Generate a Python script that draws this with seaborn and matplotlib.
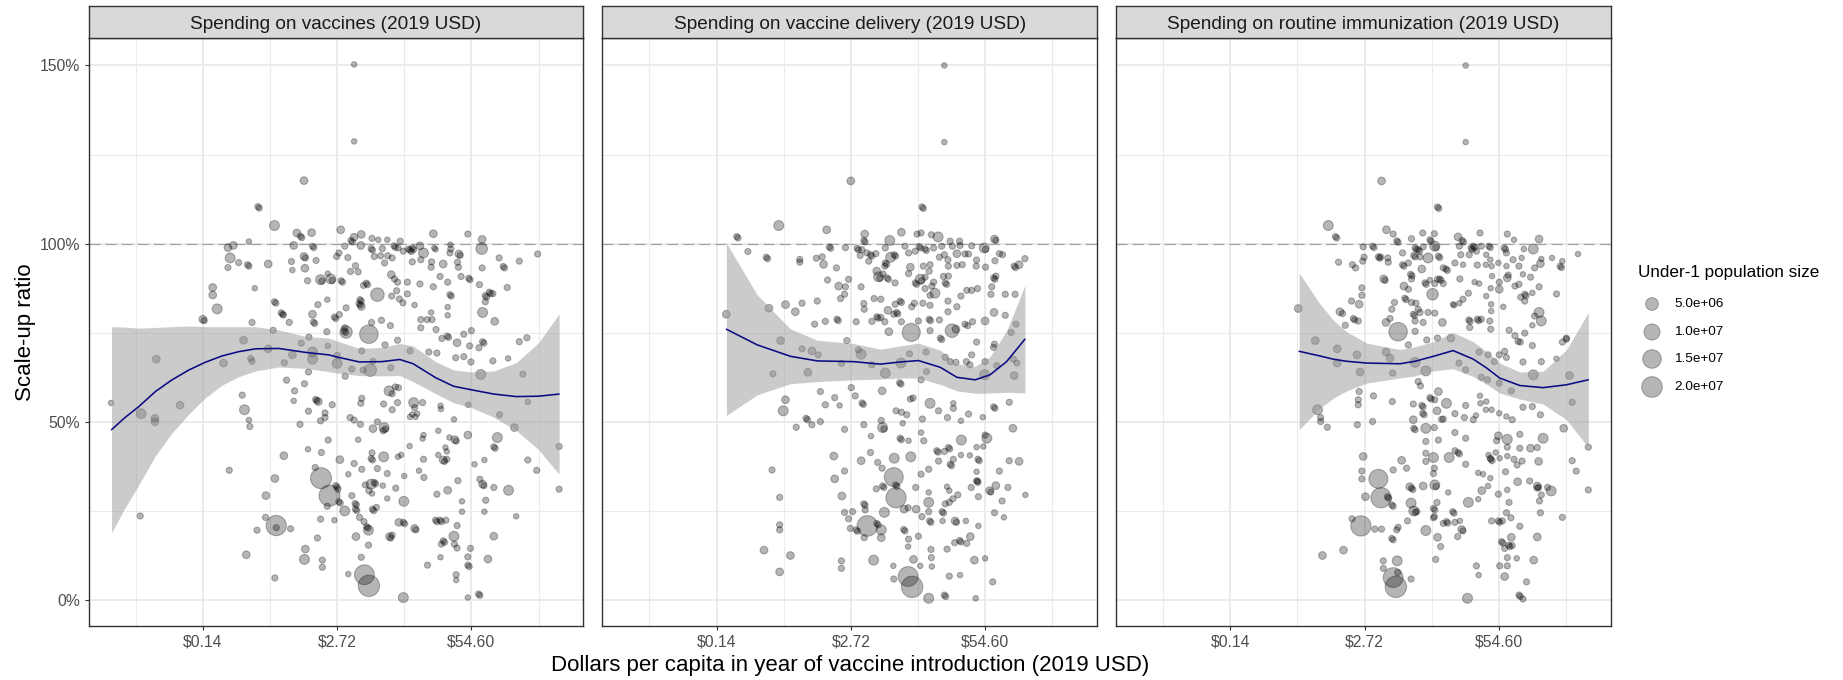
import numpy as np
import pandas as pd
import matplotlib
matplotlib.use("Agg")
import matplotlib.pyplot as plt
import seaborn as sns

# ---------------------------------------------------------------------------
# Data: (log dollars per capita, scale-up ratio, under-1 population in millions)
# ---------------------------------------------------------------------------
panel_titles = [
    "Spending on vaccines (2019 USD)",
    "Spending on vaccine delivery (2019 USD)",
    "Spending on routine immunization (2019 USD)",
]

vaccines_pts = [
(1.38,1.503,.02),(1.38,1.287,.02),(0.26,1.177,.6),(-0.77,1.104,.12),(-0.74,1.100,.12),(-0.40,1.051,2.0),(0.10,1.030,.6),(0.18,1.021,.12),(0.21,1.017,.12),(0.43,1.031,.6),
(1.08,1.039,.6),(-0.97,1.006,.02),(-1.32,0.995,.6),(-1.44,0.989,.6),(-1.39,0.960,2.0),(-1.20,0.947,.12),(-1.00,0.941,.12),(-0.97,0.937,.12),(-1.44,0.933,.12),(-0.84,0.875,.02),
(-1.78,0.877,.6),(-1.78,0.856,.6),(-1.68,0.817,2.0),(-2.00,0.788,.6),(-1.97,0.784,.12),(-0.90,0.779,.12),(-0.54,0.943,.6),(0.03,0.995,.6),(0.45,0.993,.12),(0.48,0.989,.12),
(-0.02,0.950,.12),(0.00,0.926,.02),(0.26,0.964,.6),(0.29,0.960,.12),(0.28,0.931,.6),(0.53,0.953,.12),(0.34,0.896,.12),(0.63,0.899,2.0),(0.66,0.895,.12),(0.86,0.901,2.0),
(0.89,0.897,.12),(0.79,0.916,.02),(1.09,0.896,.12),(1.12,0.892,.12),(-0.40,0.837,.12),(-0.37,0.833,.12),(-0.25,0.806,.12),(-0.22,0.802,.12),(-0.20,0.800,.12),(-0.07,0.779,.12),
(0.45,0.802,.6),(0.57,0.829,.12),(0.78,0.843,.02),(0.47,0.780,.12),(0.50,0.776,.12),(0.94,0.794,.12),(0.97,0.790,.12),(1.05,0.801,.12),(1.20,0.820,.12),(1.49,0.832,.12),
(1.52,0.828,.12),(1.54,0.824,.6),(1.51,0.843,.12),(1.54,0.839,.12),(1.90,0.857,6.0),(1.59,0.883,.12),(1.65,0.889,.12),(1.68,0.885,.12),(1.47,0.921,.12),(1.41,0.938,.12),
(1.30,0.922,.12),(1.04,0.974,.12),(0.99,0.964,.12),(1.17,0.993,.12),(1.24,0.961,.12),(1.31,1.009,.12),(1.34,1.005,.12),(1.38,1.018,.6),(1.54,1.026,.6),(1.53,0.995,.6),
(1.78,1.015,.12),(1.76,0.986,.12),(1.79,0.982,.12),(1.92,1.011,.02),(2.12,1.011,.02),(2.01,0.986,.12),(1.83,0.964,.12),(1.97,0.966,.12),(2.13,0.966,.12),(2.23,0.960,.12),
(2.27,0.994,.12),(2.30,0.990,.12),(2.41,1.007,.12),(2.36,0.988,.12),(2.48,0.979,.12),(2.59,0.985,.12),(2.63,0.982,.12),(2.66,0.978,.12),(2.68,0.988,.12),(2.71,0.984,.12),
(2.85,0.994,.6),(2.93,0.974,2.0),(3.15,1.028,.6),(3.17,0.988,.02),(3.20,0.984,.02),(3.53,0.997,.02),(3.54,0.985,.12),(3.72,0.971,.6),(3.75,0.967,.12),(3.52,0.974,.12),
(3.92,1.027,.12),(4.24,1.012,.6),(4.23,0.986,3.5),(4.62,0.960,.12),(5.07,0.951,.12),(5.48,0.971,.12),(4.71,0.936,.12),(4.74,0.932,.12),(4.24,0.932,.12),(3.69,0.948,.12),
(3.71,0.934,.12),(3.37,0.943,.6),(3.11,0.949,.12),(3.10,0.934,.12),(2.87,0.955,.12),(2.68,0.949,.12),(2.06,0.946,.12),(2.21,0.913,.6),(2.28,0.901,.12),(2.35,0.892,.12),
(2.57,0.892,.12),(2.85,0.887,.12),(3.30,0.908,.12),(3.47,0.892,.12),(3.77,0.908,.12),(3.94,0.903,.12),(3.97,0.899,.12),(4.18,0.885,.12),(4.80,0.877,.12),(3.15,0.879,.12),
(2.33,0.868,.12),(2.22,0.853,.12),(2.39,0.845,.12),(2.57,0.859,.12),(2.47,0.834,.12),(2.73,0.828,.02),(3.52,0.857,.12),(3.55,0.853,.12),(4.31,0.854,.12),(4.34,0.850,.12),
(4.40,0.864,.12),(4.43,0.860,.12),(4.48,0.860,.12),(4.31,0.837,.12),(3.47,0.822,.02),(3.47,0.799,.02),(3.10,0.807,.02),(4.25,0.807,2.0),(2.87,0.787,.12),(3.01,0.787,.12),
(3.12,0.787,.12),(2.87,0.764,.12),(3.21,0.759,.12),(4.52,0.782,.6),(4.00,0.756,.12),(1.77,0.779,.12),(1.99,0.785,.12),(2.19,0.770,.12),(1.17,0.764,.12),(1.16,0.755,.12),
(1.19,0.751,.12),(1.71,0.746,15.0),(1.20,0.752,4.5),(0.77,0.753,.12),(0.37,0.738,.12),(-0.43,0.757,.12),(-1.09,0.729,.6),(-3.04,0.676,.6),(-4.05,0.553,.02),(-3.38,0.523,2.0),
(-3.07,0.510,.6),(-3.07,0.500,.6),(-2.51,0.547,.6),(-1.54,0.665,.6),(-0.93,0.678,.12),(-0.90,0.670,.12),(-0.54,0.705,.6),(-0.18,0.666,.12),(0.00,0.688,.6),(0.20,0.721,.12),
(0.45,0.696,2.0),(0.45,0.676,2.0),(0.36,0.640,.12),(-0.13,0.617,.12),(0.27,0.607,.12),(0.05,0.587,.12),(0.03,0.559,.02),(-1.12,0.575,.12),(-1.07,0.534,2.0),(-0.97,0.505,.02),
(-0.95,0.487,.12),(0.52,0.563,.12),(0.55,0.559,.12),(0.58,0.557,.6),(0.36,0.530,.12),(0.73,0.525,.12),(0.89,0.548,.12),(0.63,0.503,.12),(0.73,0.512,.12),(0.17,0.493,.12),
(0.79,0.713,.02),(1.00,0.687,.12),(1.00,0.664,2.0),(1.18,0.628,.12),(1.33,0.648,.12),(1.55,0.699,.12),(1.55,0.566,.12),(1.53,0.552,.12),(1.58,0.645,.12),(1.74,0.645,4.5),
(1.80,0.670,.12),(2.07,0.716,.12),(2.35,0.729,.12),(2.63,0.699,.12),(2.20,0.652,.12),(2.04,0.550,.12),(2.16,0.587,2.0),(2.23,0.579,.12),(2.23,0.534,.12),(2.35,0.554,.12),
(2.30,0.598,.12),(2.37,0.596,.12),(2.71,0.554,2.0),(2.73,0.540,.12),(2.91,0.554,.12),(2.68,0.521,.02),(2.79,0.523,.02),(2.63,0.514,.02),(2.75,0.514,.02),(3.31,0.545,.02),
(3.32,0.536,.02),(3.61,0.507,.02),(3.93,0.548,.02),(3.05,0.696,.12),(3.23,0.693,.12),(3.46,0.741,.12),(3.49,0.737,.12),(3.34,0.734,.12),(3.68,0.722,.6),(3.83,0.746,.12),
(3.96,0.713,.12),(4.17,0.708,.12),(4.25,0.725,.12),(4.28,0.721,.12),(3.65,0.680,.12),(3.83,0.683,.12),(3.99,0.668,.12),(4.21,0.633,2.0),(4.48,0.671,.12),(4.82,0.678,.02),
(5.07,0.725,.12),(5.24,0.736,.12),(5.15,0.634,.12),(5.26,0.556,.02),(4.63,0.520,.12),(4.96,0.484,.6),(4.58,0.456,2.0),(4.50,0.430,.12),(4.53,0.426,.12),(3.92,0.463,.6),
(3.63,0.450,.6),(3.66,0.446,.12),(3.51,0.456,.02),(3.26,0.475,.02),(3.42,0.428,.02),(3.45,0.417,.02),(3.26,0.407,.02),(3.37,0.393,.6),(3.40,0.389,.12),(3.45,0.395,.12),
(2.93,0.463,.02),(2.91,0.453,.02),(2.62,0.432,.02),(2.93,0.395,.12),(2.83,0.363,.02),(2.94,0.344,.12),(3.23,0.297,.12),(3.47,0.308,.6),(3.70,0.335,.12),(3.79,0.277,.02),
(3.79,0.248,.02),(4.07,0.381,.02),(4.29,0.393,.02),(4.19,0.339,.12),(4.25,0.325,.6),(4.28,0.321,.12),(4.32,0.280,.12),(4.29,0.248,.02),(4.50,0.316,.12),(4.83,0.308,2.0),
(5.00,0.235,.02),(5.26,0.393,.12),(5.46,0.364,.12),(5.96,0.431,.12),(5.96,0.311,.12),(3.20,0.224,.12),(3.23,0.220,.12),(3.30,0.224,.12),(3.33,0.220,.12),(3.43,0.224,.12),
(3.68,0.209,.12),(3.61,0.179,2.0),(4.50,0.179,.6),(3.37,0.166,.12),(3.40,0.162,.12),(3.33,0.157,.12),(3.62,0.157,.12),(3.68,0.146,.12),(3.98,0.145,.12),(3.92,0.121,.12),
(3.92,0.098,.12),(3.95,0.094,.12),(4.37,0.115,.6),(3.31,0.120,.02),(3.02,0.098,.12),(3.66,0.071,.12),(3.66,0.056,.02),(4.16,0.017,.12),(4.19,0.013,.12),(3.92,0.007,.02),
(2.48,0.007,2.0),(2.73,0.201,.6),(2.76,0.197,.12),(2.38,0.218,.6),(2.48,0.218,.12),(2.51,0.214,.12),(2.17,0.178,.6),(2.20,0.174,.12),(2.23,0.182,.12),(1.70,0.196,2.0),
(1.66,0.206,.12),(1.69,0.202,.12),(1.60,0.220,.12),(1.50,0.232,.12),(1.70,0.154,.12),(1.54,0.120,.12),(1.61,0.071,18.0),(1.71,0.040,22.0),(1.25,0.073,.02),(1.42,0.178,.6),
(1.17,0.250,2.0),(1.40,0.271,.12),(1.43,0.267,.12),(1.41,0.255,.12),(1.44,0.251,.12),(1.33,0.293,.12),(1.79,0.255,.12),(1.82,0.251,.12),(1.88,0.260,.12),(1.71,0.307,.12),
(1.78,0.299,.02),(1.83,0.330,.12),(1.86,0.326,.12),(1.76,0.325,2.0),(1.63,0.323,.12),(2.02,0.321,.02),(2.12,0.285,.02),(2.31,0.314,.12),(2.49,0.277,2.0),(2.50,0.348,.02),
(2.12,0.355,.12),(1.90,0.369,.12),(1.55,0.367,.12),(1.38,0.383,.12),(1.25,0.353,.02),(1.06,0.394,.6),(1.78,0.413,.12),(1.76,0.397,.12),(1.79,0.393,.12),(2.04,0.402,2.0),
(2.36,0.402,.02),(2.43,0.407,.02),(1.47,0.450,.02),(1.80,0.481,.6),(2.05,0.484,2.0),(2.08,0.480,.12),(2.03,0.475,.12),(1.29,0.512,.12),(1.38,0.505,.12),(1.52,0.493,.12),
(1.90,0.500,.12),(0.80,0.449,.12),(0.35,0.423,.02),(0.65,0.414,.12),(-0.19,0.405,.6),(-1.41,0.364,.12),(-0.39,0.341,.6),(0.51,0.372,.12),(0.64,0.342,21.0),(0.83,0.293,21.0),
(0.97,0.321,.12),(1.00,0.317,.12),(1.02,0.311,.12),(0.78,0.263,.12),(0.94,0.224,.02),(0.63,0.227,.12),(1.04,0.276,.12),(1.07,0.272,.12),(0.56,0.174,.12),(-0.59,0.293,.6),
(-0.60,0.232,.12),(-0.79,0.196,.12),(-0.36,0.209,19.0),(-0.36,0.203,.12),(-0.04,0.200,.12),(-1.03,0.127,.6),(0.29,0.143,.6),(0.27,0.114,2.0),(0.67,0.112,.12),(0.67,0.092,.12),
(-0.39,0.062,.12),(-3.40,0.236,.12),
]

delivery_pts = [
(3.09,1.500,.02),(3.09,1.285,.02),(1.00,1.176,.6),(2.59,1.103,.12),(2.62,1.099,.12),(-0.61,1.051,2.0),(-1.55,1.020,.12),(-1.52,1.016,.12),(0.46,1.039,.6),(2.13,1.032,.6),
(1.31,1.027,.6),(1.29,1.009,.12),(1.32,1.005,.12),(1.87,1.009,2.0),(2.48,1.027,.12),(2.57,1.030,.12),(2.80,1.025,.12),(2.95,1.019,2.0),(3.22,1.007,.12),(3.43,1.007,.12),
(4.21,1.013,.6),(4.24,1.009,.12),(-1.30,0.978,.12),(-0.89,0.962,.12),(-0.86,0.958,.12),(-0.14,0.956,.12),(-0.14,0.948,.12),(0.23,0.959,.12),(0.36,0.963,.12),(0.39,0.942,.6),
(0.52,0.991,.12),(0.55,0.987,.12),(0.68,0.932,.12),(0.88,0.989,.12),(1.14,0.987,.12),(1.17,0.983,.12),(1.25,0.983,.12),(1.36,0.974,.12),(1.44,0.969,.12),(1.47,0.965,.12),
(1.21,0.967,.12),(1.40,0.951,.12),(1.56,0.972,.12),(1.77,0.988,.12),(1.89,0.962,2.0),(1.97,0.969,.12),(2.00,0.965,.12),(1.77,0.946,.12),(1.80,0.942,.12),(1.76,0.937,.12),
(2.21,0.993,.12),(2.29,0.974,.12),(2.44,0.979,.12),(2.53,0.992,.12),(2.56,0.988,.12),(2.66,0.985,.12),(2.69,0.981,.12),(2.85,0.988,.12),(3.03,0.993,.12),(3.09,0.969,.12),
(3.27,0.993,.12),(3.44,0.995,.12),(3.70,0.994,.12),(3.98,0.988,2.0),(4.01,0.984,.12),(3.37,0.972,.6),(3.55,0.971,.12),(3.63,0.971,.12),(4.32,0.972,.12),(4.39,0.969,.12),
(4.22,0.952,.12),(4.89,0.958,.12),(4.76,0.941,.6),(4.65,0.937,.12),(4.68,0.933,.12),(3.81,0.954,.12),(4.01,0.934,.12),(3.80,0.937,.12),(3.49,0.941,.12),(3.37,0.939,.12),
(3.18,0.937,.12),(3.17,0.955,.12),(2.98,0.962,.12),(2.77,0.941,.12),(2.75,0.923,.12),(2.62,0.937,.12),(2.33,0.934,.6),(2.29,0.916,.12),(2.55,0.900,2.0),(2.58,0.896,.12),
(2.44,0.890,.12),(2.47,0.886,.12),(2.66,0.906,.12),(2.85,0.892,.12),(3.11,0.890,.12),(3.14,0.886,.12),(3.18,0.909,.12),(3.07,0.908,.12),(1.58,0.923,.6),(1.62,0.907,2.0),
(1.65,0.903,.12),(1.81,0.904,.12),(1.84,0.900,.12),(1.72,0.915,.12),(0.48,0.898,.12),(0.95,0.900,.12),(0.73,0.881,.6),(0.88,0.879,.12),(1.23,0.879,.12),(1.99,0.890,.12),
(2.88,0.861,2.0),(2.77,0.855,.12),(2.66,0.874,.12),(2.81,0.881,.12),(3.17,0.839,.12),(3.46,0.853,.12),(3.59,0.869,.12),(3.70,0.869,.12),(3.83,0.874,.12),(4.15,0.879,.12),
(4.13,0.858,.12),(4.45,0.858,.12),(4.67,0.858,.12),(4.19,0.904,.12),(4.22,0.900,.12),(4.24,0.909,.12),(3.17,0.809,.12),(3.37,0.823,.12),(2.77,0.827,.12),(2.61,0.833,.12),
(2.42,0.833,.12),(2.36,0.823,.12),(2.10,0.839,.12),(2.13,0.835,.12),(1.99,0.830,.12),(2.02,0.807,.12),(2.05,0.803,.12),(1.96,0.802,.12),(2.13,0.781,.12),(1.83,0.813,.6),
(1.67,0.844,.12),(1.52,0.846,.12),(1.29,0.832,.12),(1.30,0.816,.12),(0.77,0.846,.12),(0.86,0.858,.12),(0.25,0.839,.12),(-0.09,0.833,.12),(-0.24,0.809,.6),(-0.46,0.829,.6),
(-0.83,0.819,.6),(-1.78,0.802,.6),(0.43,0.782,.12),(0.69,0.788,.12),(0.72,0.784,.12),(1.12,0.781,.12),(1.58,0.795,.12),(1.61,0.791,.12),(1.67,0.793,.12),(1.47,0.782,.12),
(1.76,0.781,.12),(3.72,0.781,.12),(4.00,0.783,.6),(4.20,0.807,.6),(4.45,0.799,.12),(4.69,0.774,.12),(2.51,0.783,.12),(2.75,0.788,.12),(2.78,0.784,.12),(2.98,0.786,.12),
(3.35,0.760,.6),(3.55,0.774,.12),(3.61,0.770,.12),(2.35,0.751,14.0),(3.26,0.756,6.0),(1.85,0.753,.6),(2.77,0.756,.12),(4.58,0.751,.12),(0.19,0.774,.12),(3.00,0.735,.12),
(3.03,0.731,.12),(3.81,0.724,.12),(4.21,0.718,.12),(4.19,0.709,.12),(3.70,0.688,.12),(3.66,0.660,.12),(4.00,0.669,.12),(4.26,0.658,.12),(4.63,0.676,.12),(4.71,0.665,.12),
(4.65,0.630,.6),(3.99,0.632,2.0),(3.11,0.681,.12),(3.22,0.669,.12),(3.35,0.667,.12),(3.58,0.669,.12),(2.68,0.696,.12),(2.31,0.691,.12),(2.12,0.665,2.0),(2.69,0.641,.12),
(2.57,0.618,.12),(2.09,0.610,.12),(2.12,0.606,.12),(1.77,0.637,2.0),(1.70,0.587,.6),(1.47,0.660,.12),(1.17,0.702,.12),(1.23,0.690,2.0),(0.91,0.728,.12),(0.79,0.664,.12),
(0.13,0.699,.6),(0.27,0.688,.12),(-0.09,0.705,.12),(0.04,0.639,.6),(-0.57,0.728,.6),(-0.74,0.635,.12),(0.32,0.585,.12),(-0.46,0.562,.6),(-0.51,0.531,2.0),(0.00,0.510,.12),
(0.03,0.506,.12),(0.13,0.492,.12),(0.32,0.501,.12),(-0.22,0.485,.12),(0.43,0.548,.12),(0.64,0.568,.12),(0.75,0.546,.02),(1.01,0.596,.12),(1.10,0.573,.12),(1.25,0.553,.12),
(1.28,0.549,.12),(1.29,0.492,.12),(1.45,0.460,.02),(0.86,0.479,.12),(1.71,0.484,2.0),(1.74,0.480,.12),(1.68,0.504,.12),(2.01,0.531,.12),(2.13,0.527,.12),(2.25,0.520,.12),
(2.33,0.564,.12),(2.39,0.567,.12),(2.77,0.552,2.0),(2.60,0.508,.12),(2.16,0.496,.02),(2.96,0.531,.12),(3.16,0.512,.12),(3.29,0.538,.12),(3.29,0.552,.02),(3.46,0.503,.02),
(3.63,0.522,.12),(3.95,0.513,.02),(4.19,0.542,.12),(4.22,0.538,.12),(4.54,0.555,.12),(4.62,0.482,.6),(4.04,0.454,2.0),(4.00,0.463,.12),(3.81,0.429,.02),(3.96,0.431,.02),
(3.47,0.449,2.0),(2.57,0.470,.02),(2.63,0.447,.12),(2.10,0.454,.12),(2.13,0.450,.12),(2.29,0.447,.02),(1.44,0.414,.12),(1.97,0.398,2.0),(2.34,0.402,2.0),(2.92,0.419,.12),
(2.95,0.415,.12),(3.18,0.428,.12),(3.21,0.424,.12),(3.09,0.417,.12),(2.96,0.390,.12),(3.22,0.381,.12),(3.25,0.377,.12),(3.29,0.395,.12),(3.46,0.407,.02),(3.66,0.406,.02),
(3.84,0.395,.12),(3.87,0.391,.12),(3.81,0.360,.02),(3.81,0.334,.12),(3.84,0.330,.12),(4.54,0.391,.12),(4.76,0.389,.6),(4.32,0.362,.12),(4.24,0.321,.6),(4.10,0.307,.6),
(4.13,0.303,.12),(4.51,0.316,.12),(4.38,0.278,.12),(4.90,0.295,.02),(4.21,0.245,.12),(4.42,0.232,.02),(0.62,0.404,.6),(1.23,0.391,.6),(1.60,0.386,.12),(1.70,0.370,.12),
(0.86,0.362,.12),(0.64,0.340,.6),(-0.76,0.365,.12),(1.96,0.345,16.0),(2.00,0.323,.12),(2.03,0.319,.12),(1.71,0.320,.12),(1.74,0.316,.12),(1.57,0.312,.12),(2.45,0.316,.12),
(2.57,0.353,.12),(2.74,0.367,.12),(2.74,0.302,.02),(3.15,0.318,.02),(3.20,0.307,.02),(3.39,0.295,.12),(3.28,0.284,.12),(3.20,0.274,.12),(3.11,0.270,.12),(3.69,0.316,.12),
(3.85,0.290,.12),(3.83,0.334,.12),(2.01,0.287,19.0),(2.74,0.274,2.0),(2.19,0.255,.6),(2.46,0.255,.6),(2.74,0.248,.12),(2.28,0.259,.12),(1.75,0.246,2.0),(0.80,0.292,.6),
(1.29,0.270,.12),(1.32,0.266,.12),(1.32,0.253,.12),(0.86,0.246,.12),(1.04,0.248,.12),(0.95,0.228,.12),(-0.59,0.288,.12),(-0.59,0.211,.12),(-0.59,0.197,.12),(1.37,0.208,20.0),
(1.58,0.215,.12),(1.61,0.211,.12),(1.68,0.197,2.0),(1.68,0.175,.6),(1.30,0.175,.12),(0.99,0.201,.12),(1.12,0.197,.12),(1.15,0.193,.12),(2.59,0.234,.12),(2.76,0.222,.12),
(2.79,0.218,.12),(3.04,0.248,.12),(3.07,0.244,.12),(3.05,0.222,.02),(3.33,0.222,.6),(3.36,0.218,.12),(3.57,0.222,.02),(3.85,0.208,.02),(2.18,0.198,.12),(2.21,0.194,.12),
(2.29,0.171,.12),(2.28,0.150,.02),(2.51,0.179,.12),(2.79,0.142,.12),(2.80,0.119,.12),(3.15,0.143,.12),(3.32,0.161,.12),(3.43,0.167,.12),(3.46,0.163,.12),(3.59,0.159,.12),
(3.67,0.178,.6),(3.76,0.112,.6),(4.00,0.117,.02),(4.17,0.051,.12),(3.44,0.070,.02),(3.20,0.067,.12),(3.09,0.014,.12),(3.12,0.010,.12),(3.79,0.005,.02),(2.74,0.005,2.0),
(2.28,0.066,18.0),(2.37,0.037,22.0),(1.96,0.059,.12),(1.95,0.096,.02),(2.40,0.114,.6),(2.55,0.096,.02),(2.81,0.094,.02),(1.51,0.112,2.0),(0.79,0.110,.12),(0.79,0.089,.12),
(-0.35,0.125,.6),(-0.94,0.140,.6),(-0.59,0.079,.6),
]

routine_pts = [
(3.26,1.500,.02),(3.26,1.285,.02),(1.38,1.176,.6),(2.63,1.103,.12),(2.66,1.099,.12),(0.19,1.051,2.0),(0.35,1.020,.12),(0.38,1.016,.12),(1.49,1.039,.6),(1.64,1.027,.12),
(1.72,1.008,.12),(1.75,1.004,.12),(2.05,1.014,.12),(2.30,1.030,.12),(2.56,1.028,.12),(2.46,1.011,.12),(2.49,1.007,.12),(3.09,1.019,.6),(3.18,1.009,.12),(3.21,1.005,.12),
(3.58,1.030,.12),(4.19,1.027,.12),(4.34,1.011,.02),(4.90,1.013,.6),(4.77,0.985,2.0),(4.56,0.985,.02),(4.12,0.988,.12),(4.15,0.984,.12),(3.78,0.993,.12),(3.81,0.989,.12),
(3.61,0.993,.12),(3.43,0.993,.12),(3.46,0.989,.12),(3.38,0.988,.12),(3.41,0.984,.12),(3.12,0.993,.12),(3.15,0.969,.12),(3.34,0.969,.12),(3.50,0.979,.12),(3.72,0.969,.02),
(3.81,0.955,.02),(3.71,0.941,.02),(3.99,0.946,.02),(3.84,0.937,.02),(3.52,0.940,.12),(3.20,0.941,.02),(3.02,0.946,.12),(4.17,0.974,.12),(4.32,0.955,.12),(4.51,0.960,.02),
(4.45,0.937,.12),(4.17,0.937,.02),(4.80,0.932,.12),(4.93,0.944,.6),(4.95,0.957,.02),(5.19,0.960,.02),(5.42,0.951,.02),(5.37,0.937,.12),(5.40,0.933,.12),(5.77,0.971,.02),
(5.29,0.859,.12),(4.90,0.879,.12),(4.75,0.862,.02),(4.58,0.858,.12),(4.61,0.854,.12),(4.49,0.850,.12),(4.58,0.839,.12),(4.45,0.886,.12),(4.19,0.904,.6),(4.21,0.912,.12),
(4.36,0.881,.12),(4.54,0.914,.02),(4.71,0.906,.12),(4.01,0.892,.12),(4.01,0.872,.6),(3.85,0.909,.02),(3.72,0.853,.02),(3.83,0.830,.02),(3.83,0.811,.02),(4.10,0.823,.02),
(3.82,0.875,.02),(3.56,0.888,.02),(3.46,0.892,.02),(3.13,0.901,.12),(3.32,0.861,.12),(3.20,0.844,.12),(3.12,0.833,.02),(3.00,0.827,.02),(3.52,0.788,.12),(3.55,0.784,.12),
(3.61,0.788,.12),(3.33,0.786,.12),(3.36,0.782,.12),(3.80,0.783,.12),(3.82,0.760,.12),(3.35,0.765,.12),(4.23,0.757,.12),(4.58,0.749,.12),(4.90,0.807,2.0),(4.80,0.797,.12),
(4.95,0.783,2.0),(4.75,0.771,.02),(5.51,0.732,.12),(2.82,0.929,.12),(2.85,0.925,.12),(2.76,0.932,.12),(2.68,0.901,.12),(2.71,0.897,.12),(2.76,0.888,.12),(2.63,0.900,.12),
(2.46,0.898,.02),(2.57,0.888,.12),(2.52,0.858,3.5),(2.35,0.890,.12),(2.38,0.886,.12),(2.28,0.929,.6),(2.42,0.960,2.0),(2.65,0.965,.12),(2.68,0.961,.12),(2.57,0.993,2.0),
(2.60,0.989,.12),(2.31,0.991,.12),(2.20,0.983,.12),(2.23,0.979,.12),(2.13,0.988,.12),(2.16,0.984,.12),(2.10,0.967,.12),(2.13,0.963,.12),(2.24,0.963,.12),(1.98,0.946,.12),
(1.85,0.974,.12),(1.85,0.941,.12),(1.88,0.937,.12),(2.03,0.914,.12),(2.06,0.910,.12),(2.05,0.901,.12),(1.88,0.881,.6),(1.98,0.872,.12),(1.90,0.847,.12),(1.93,0.843,.12),
(2.05,0.835,.12),(2.15,0.833,.12),(2.20,0.816,.12),(2.24,0.807,.12),(2.09,0.802,.12),(2.12,0.798,.12),(2.13,0.783,.12),(2.31,0.779,.12),(2.42,0.807,.12),(2.57,0.805,.12),
(2.74,0.779,.6),(2.98,0.830,.02),(1.67,0.835,.12),(1.61,0.816,.12),(1.48,0.779,.6),(1.57,0.790,.12),(1.75,0.753,15.0),(1.43,0.901,.6),(1.46,0.897,.12),(1.36,0.963,.12),
(1.52,0.960,.12),(1.31,0.963,.12),(1.34,0.959,.12),(1.53,0.948,.12),(1.18,0.993,.12),(1.21,0.989,.12),(0.97,0.991,.12),(0.99,0.962,.12),(0.96,0.951,.12),(0.80,0.932,.12),
(0.73,0.941,.12),(0.42,0.948,.12),(0.94,0.876,.12),(0.94,0.855,.12),(0.88,0.830,.6),(0.71,0.839,.12),(0.45,0.809,.6),(0.51,0.804,.12),(0.57,0.771,.12),(0.75,0.790,.12),
(0.78,0.786,.12),(0.86,0.783,.12),(-0.48,0.818,.6),(-0.10,0.728,.6),(0.39,0.705,.6),(0.39,0.665,.6),(0.83,0.688,.6),(0.90,0.640,.6),(1.48,0.696,.6),(1.57,0.679,.6),
(1.63,0.637,.12),(1.98,0.716,.12),(2.13,0.754,.12),(2.13,0.667,2.0),(2.37,0.643,2.0),(2.39,0.730,.12),(2.63,0.735,.12),(2.93,0.735,.6),(3.11,0.665,.12),(3.26,0.646,.12),
(3.56,0.696,.12),(3.76,0.688,.12),(4.01,0.688,.12),(4.13,0.698,.12),(4.17,0.681,.12),(3.90,0.669,.12),(3.61,0.625,.12),(3.75,0.618,.12),(4.01,0.609,.12),(4.28,0.587,.12),
(4.54,0.668,.12),(4.77,0.632,2.0),(4.95,0.669,.12),(4.75,0.714,.12),(4.43,0.726,.12),(4.36,0.742,.12),(4.48,0.724,.12),(5.29,0.677,.02),(5.42,0.724,.12),(5.51,0.735,.12),
(5.58,0.630,.6),(5.64,0.555,.12),(5.45,0.482,.6),(6.00,0.429,.12),(5.64,0.391,.12),(5.73,0.362,.12),(6.00,0.309,.12),(5.42,0.232,.12),(4.93,0.520,.12),(4.75,0.543,.12),
(4.54,0.541,.12),(4.30,0.506,.12),(4.17,0.515,.02),(4.01,0.524,.02),(3.84,0.534,.02),(3.71,0.534,.02),(3.59,0.552,.02),(3.58,0.573,.02),(3.72,0.557,.02),(3.49,0.518,.02),
(3.43,0.506,.12),(3.26,0.546,.12),(3.23,0.512,.12),(3.02,0.523,.12),(2.76,0.508,.12),(2.65,0.585,.6),(2.57,0.562,.12),(2.46,0.568,.12),(2.49,0.564,.12),(2.83,0.552,2.0),
(2.62,0.531,.6),(2.28,0.546,.12),(2.31,0.542,.12),(2.30,0.524,.12),(2.33,0.520,.12),(2.09,0.550,.12),(2.09,0.506,.6),(2.37,0.482,2.0),(2.56,0.484,.12),(2.72,0.507,.12),
(2.10,0.482,.12),(2.13,0.478,.12),(2.20,0.613,.12),(2.25,0.601,.12),(2.65,0.449,.12),(2.37,0.445,.12),(1.62,0.557,.12),(1.18,0.501,.12),(0.84,0.492,.12),(0.88,0.585,.12),
(0.86,0.562,.12),(0.86,0.548,.12),(1.20,0.573,.12),(-0.05,0.534,2.0),(0.02,0.512,.12),(0.02,0.501,.12),(0.17,0.485,.12),(3.02,0.470,.12),(3.26,0.454,.12),(3.99,0.461,.6),
(3.95,0.447,.12),(4.19,0.451,2.0),(4.47,0.465,.12),(4.19,0.429,.12),(4.47,0.426,.12),(4.71,0.426,.6),(4.86,0.428,.12),(4.99,0.454,2.0),(4.02,0.398,.02),(4.19,0.404,.02),
(4.34,0.395,.12),(4.41,0.379,.12),(4.52,0.390,.12),(4.89,0.389,.6),(4.15,0.360,.12),(3.81,0.398,.12),(3.77,0.407,.02),(3.93,0.414,.02),(3.82,0.395,.12),(3.85,0.391,.12),
(3.54,0.357,.02),(3.65,0.353,.02),(3.81,0.342,.02),(3.26,0.381,.12),(2.89,0.400,2.0),(3.09,0.414,.12),(3.12,0.410,.12),(3.02,0.419,.12),(2.54,0.400,2.0),(2.37,0.412,.12),
(2.37,0.389,.12),(2.56,0.370,.12),(2.54,0.355,.12),(2.57,0.323,2.0),(2.60,0.319,.12),(2.31,0.320,.6),(2.01,0.318,.6),(2.05,0.314,.12),(2.08,0.310,.12),(1.94,0.370,.12),
(1.83,0.392,.6),(1.64,0.365,.12),(0.97,0.403,.6),(0.94,0.362,.12),(0.94,0.340,.12),(1.31,0.340,16.0),(1.37,0.287,19.0),(1.02,0.290,.6),(1.51,0.290,.12),(1.54,0.286,.12),
(1.61,0.267,.12),(1.64,0.263,.12),(2.04,0.272,2.0),(2.10,0.250,2.0),(2.13,0.246,.12),(2.17,0.248,.12),(2.54,0.257,.12),(2.57,0.253,.12),(2.62,0.274,.12),(2.56,0.234,.12),
(2.87,0.302,.02),(2.97,0.248,.12),(3.00,0.244,.12),(3.32,0.274,2.0),(3.54,0.283,.02),(3.62,0.307,.6),(3.76,0.320,.02),(3.99,0.297,.12),(4.19,0.309,.02),(4.23,0.274,.12),
(4.42,0.332,.6),(4.69,0.334,.12),(4.86,0.320,.6),(4.89,0.316,.12),(4.86,0.314,.12),(4.95,0.295,.12),(4.91,0.278,.12),(5.09,0.316,.12),(5.17,0.306,2.0),(4.93,0.245,.12),
(4.17,0.245,.12),(4.27,0.231,.12),(4.47,0.207,.12),(3.84,0.222,.12),(3.99,0.222,.12),(4.02,0.218,.12),(4.08,0.222,.12),(4.28,0.176,.6),(4.86,0.177,.6),(4.06,0.164,.12),
(4.09,0.160,.12),(4.22,0.154,.12),(4.25,0.150,.12),(4.13,0.145,.12),(4.30,0.153,.12),(4.19,0.119,.12),(4.40,0.117,.02),(4.78,0.112,.6),(4.02,0.096,.12),(4.19,0.096,.12),
(4.13,0.066,.6),(4.62,0.051,.12),(3.50,0.096,.12),(3.55,0.070,.02),(4.45,0.014,.12),(4.48,0.010,.12),(4.54,0.003,.12),(3.30,0.005,2.0),(3.17,0.198,.6),(3.20,0.194,.12),
(3.08,0.178,.12),(3.13,0.222,.02),(3.02,0.218,.12),(2.83,0.220,.12),(2.86,0.216,.12),(2.76,0.215,.12),(2.63,0.176,.6),(2.70,0.150,.12),(2.59,0.114,.12),(2.37,0.195,2.0),
(2.54,0.231,.12),(1.96,0.222,.12),(1.75,0.204,.12),(1.72,0.197,.12),(1.61,0.173,.12),(1.64,0.169,.12),(1.23,0.199,.12),(1.38,0.199,.12),(0.92,0.208,19.0),(0.72,0.228,.12),
(0.53,0.140,.6),(0.06,0.125,.6),(1.42,0.110,.12),(1.42,0.089,.12),(1.73,0.110,2.0),(2.04,0.059,.12),(1.64,0.063,18.0),(1.70,0.037,22.0),(1.74,0.077,.12),
]

# Loess fits per panel: log dollars, fitted ratio, half-width of the 95% band
vaccines_fit_x = [-4.04, -3.75, -3.43, -3.06, -2.70, -2.32, -1.95, -1.57, -1.20, -0.82, -0.30, 0.29, 0.81, 1.0, 1.5, 2.0, 2.4, 2.7, 3.2, 3.6, 4.0, 4.5, 5.0, 5.5, 5.96]
vaccines_fit_y = [.478, .511, .543, .585, .617, .645, .667, .685, .697, .705, .706, .695, .688, .682, .668, .669, .675, .663, .624, .600, .590, .578, .571, .572, .578]
vaccines_fit_hw = [.289, .255, .22, .18, .15, .124, .10, .082, .07, .062, .052, .045, .047, .045, .038, .04, .045, .05, .045, .046, .05, .065, .095, .15, .225]

delivery_fit_x = [-1.78, -1.09, -0.35, 0.25, 1.06, 1.66, 2.10, 2.51, 3.0, 3.37, 3.78, 4.11, 4.48, 4.89]
delivery_fit_y = [.760, .716, .684, .671, .669, .662, .668, .672, .653, .625, .618, .632, .669, .732]
delivery_fit_hw = [.242, .14, .077, .058, .051, .042, .045, .049, .048, .038, .038, .051, .086, .151]

routine_fit_x = [-0.46, 0.0, 0.30, 0.6, 1.05, 1.79, 2.13, 2.54, 2.98, 3.43, 3.73, 4.02, 4.47, 4.99, 5.51, 6.0]
routine_fit_y = [.698, .685, .676, .670, .665, .663, .670, .684, .700, .676, .651, .623, .602, .596, .604, .618]
routine_fit_hw = [.22, .147, .11, .083, .056, .040, .041, .041, .051, .049, .046, .042, .038, .046, .098, .189]

x_breaks = [-2, 1, 4]
x_minor = [-3.5, -0.5, 2.5, 5.5]
y_breaks = [0.0, 0.5, 1.0, 1.5]
y_minor = [0.25, 0.75, 1.25]
reference_ratio = 1.0

legend_pops = [5.0, 10.0, 15.0, 20.0]
legend_labels = ["5.0e+06", "1.0e+07", "1.5e+07", "2.0e+07"]

# ---------------------------------------------------------------------------
W_PX, H_PX, DPI = 1843, 680, 100

sns.set_theme(style="white")
plt.rcParams["font.family"] = ["Liberation Sans", "DejaVu Sans"]
plt.rcParams["lines.scale_dashes"] = False


def marker_area(pop_millions):
    """Scatter marker area (pt^2): diameter grows with sqrt of population."""
    d_px = 5.0 + 3.5 * np.sqrt(pop_millions)
    return (d_px * 72.0 / DPI) ** 2


def size_table(values):
    return {v: marker_area(v) for v in sorted(set(values))}


POINT_KW = dict(color="black", alpha=0.29, edgecolor="black", linewidth=0.75)

frames = []
for title, pts in zip(panel_titles, [vaccines_pts, delivery_pts, routine_pts]):
    arr = np.array(pts)
    frames.append(pd.DataFrame({"panel": title, "log_usd": arr[:, 0],
                                "ratio": arr[:, 1], "pop": arr[:, 2]}))
df = pd.concat(frames, ignore_index=True)
fits = {
    panel_titles[0]: (vaccines_fit_x, vaccines_fit_y, vaccines_fit_hw),
    panel_titles[1]: (delivery_fit_x, delivery_fit_y, delivery_fit_hw),
    panel_titles[2]: (routine_fit_x, routine_fit_y, routine_fit_hw),
}

# shared scales with 5% padding
xr = (df.log_usd.min(), df.log_usd.max())
yr = (df.ratio.min(), df.ratio.max())
xpad = 0.05 * (xr[1] - xr[0])
ypad = 0.05 * (yr[1] - yr[0])
xlim = (xr[0] - xpad, xr[1] + xpad)
ylim = (yr[0] - ypad, yr[1] + ypad)

fig = plt.figure(figsize=(W_PX / DPI, H_PX / DPI), dpi=DPI)
fig.patch.set_facecolor("white")

panel_left_px = [88.6, 602.3, 1116.0]
panel_w_px = 494.8
panel_top_px, panel_bot_px = 37.7, 625.7
strip_top_px = 5.7

sizes_all = size_table(df["pop"].tolist())

for i, title in enumerate(panel_titles):
    l = panel_left_px[i] / W_PX
    w = panel_w_px / W_PX
    b = 1 - panel_bot_px / H_PX
    h = (panel_bot_px - panel_top_px) / H_PX
    ax = fig.add_axes([l, b, w, h])
    sub = df[df.panel == title]

    ax.axhline(reference_ratio, color="#a3a3a3", lw=0.9, dashes=(8, 3.6), zorder=1.5)
    sns.scatterplot(data=sub, x="log_usd", y="ratio", size="pop", sizes=sizes_all,
                    legend=False, ax=ax, zorder=2, **POINT_KW)
    fx, fy, fh = (np.array(v) for v in fits[title])
    ax.fill_between(fx, fy - fh, fy + fh, color="#999999", alpha=0.5, lw=0, zorder=3)
    sns.lineplot(x=fx, y=fy, ax=ax, color="#0b0b85", lw=1.15, zorder=4,
                 estimator=None, sort=True)

    ax.set_xlim(*xlim)
    ax.set_ylim(*ylim)
    ax.set_xticks(x_breaks)
    ax.set_xticklabels([f"${np.exp(v):.2f}" for v in x_breaks])
    ax.set_xticks(x_minor, minor=True)
    ax.set_yticks(y_breaks)
    ax.set_yticks(y_minor, minor=True)
    ax.set_yticklabels([f"{int(round(v * 100))}%" for v in y_breaks])
    ax.grid(which="major", color="#ebebeb", lw=1.4)
    ax.grid(which="minor", color="#ebebeb", lw=0.75)
    ax.set_axisbelow(True)
    ax.tick_params(which="minor", length=0)
    ax.tick_params(which="major", length=2.6, width=0.8, color="#333333",
                   labelsize=11.3, labelcolor="#4d4d4d", pad=3.5, direction="out",
                   bottom=True, left=True)
    if i > 0:
        ax.tick_params(axis="y", which="both", left=False, labelleft=False)
    for sp in ax.spines.values():
        sp.set_color("#333333")
        sp.set_linewidth(1.0)
        sp.set_visible(True)
    ax.set_xlabel("")
    ax.set_ylabel("")
    ax.set_facecolor("white")

    # facet strip
    sax = fig.add_axes([l, 1 - panel_top_px / H_PX, w, (panel_top_px - strip_top_px) / H_PX])
    sax.set_facecolor("#d9d9d9")
    sax.set_xticks([])
    sax.set_yticks([])
    for sp in sax.spines.values():
        sp.set_color("#333333")
        sp.set_linewidth(1.0)
        sp.set_visible(True)
    sax.text(0.5, 0.265, title, ha="center", va="baseline", fontsize=13.7,
             color="#1a1a1a", transform=sax.transAxes)

# axis titles
cx = (panel_left_px[0] + panel_left_px[2] + panel_w_px) / 2 / W_PX
fig.text(cx, 1 - 671.5 / H_PX, "Dollars per capita in year of vaccine introduction (2019 USD)",
         ha="center", va="baseline", fontsize=16, color="black")
fig.text(25 / W_PX, 1 - (panel_top_px + panel_bot_px) / 2 / H_PX, "Scale-up ratio",
         rotation=90, ha="center", va="center", fontsize=16, color="black")

# size legend
lax = fig.add_axes([0, 0, 1, 1], zorder=5)
lax.set_xlim(0, W_PX)
lax.set_ylim(H_PX, 0)
lax.axis("off")
lax.patch.set_alpha(0)
lax.text(1638, 273, "Under-1 population size", fontsize=12.3, ha="left", va="center",
         color="black")
key_y = [304, 332, 359, 387]
leg_df = pd.DataFrame({"x": [1652.0] * 4, "y": key_y, "pop": legend_pops})
sns.scatterplot(data=leg_df, x="x", y="y", size="pop", sizes=size_table(legend_pops),
                legend=False, ax=lax, **POINT_KW)
lax.set_xlim(0, W_PX)
lax.set_ylim(H_PX, 0)
lax.axis("off")
for yk, lab in zip(key_y, legend_labels):
    lax.text(1674, yk, lab, fontsize=9.7, ha="left", va="center", color="black")

fig.savefig("out.png", dpi=DPI, facecolor="white")
